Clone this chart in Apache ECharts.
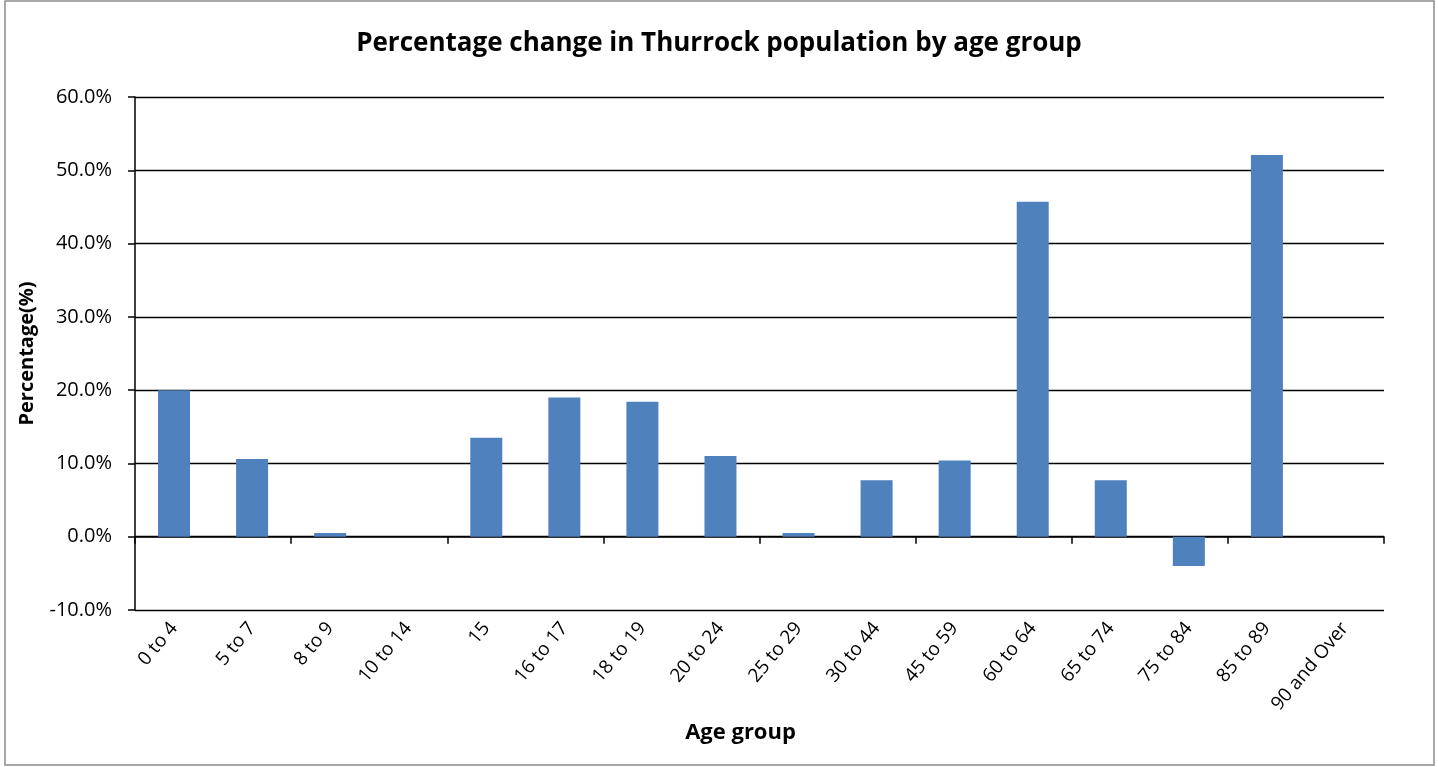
<!DOCTYPE html>
<html>
<head>
<meta charset="utf-8">
<script src="https://cdn.jsdelivr.net/npm/echarts@6/dist/echarts.min.js"></script>
<style>
  html, body { margin: 0; padding: 0; background: #fff; }
  #chart { width: 1438px; height: 767px; }
</style>
</head>
<body>
<div id="chart"></div>
<script>
// age groups and percentage change
const ageGroups = ['0 to 4', '5 to 7', '8 to 9', '10 to 14', '15', '16 to 17', '18 to 19', '20 to 24',
  '25 to 29', '30 to 44', '45 to 59', '60 to 64', '65 to 74', '75 to 84', '85 to 89', '90 and Over'];
const pctChange = [20.0, 10.6, 0.5, 0, 13.5, 19.0, 18.4, 11.0, 0.5, 7.7, 10.4, 45.7, 7.7, -4.0, 52.1, 0];
const yTicks = { min: -10, max: 60, step: 10 };

const font = '"Open Sans", "Noto Sans", sans-serif';
const chart = echarts.init(document.getElementById('chart'));

chart.setOption({
  animation: false,
  textStyle: { fontFamily: font, color: '#000' },
  title: {
    text: 'Percentage change in Thurrock population by age group',
    left: 'center',
    top: 26,
    textStyle: { fontFamily: font, fontSize: 26, fontWeight: 'bold', color: '#000' }
  },
  graphic: [{
    type: 'rect',
    shape: { x: 5, y: 1, width: 1429, height: 764 },
    style: { fill: 'none', stroke: '#8c8c8c', lineWidth: 1.5 },
    silent: true
  }],
  grid: { left: 135, right: 54, top: 97, bottom: 157 },
  xAxis: [{
    type: 'category',
    data: ageGroups,
    axisLine: { onZero: true, lineStyle: { color: '#000', width: 1.5 } },
    axisTick: { show: true, length: 7, lineStyle: { color: '#000', width: 1.5 } },
    axisLabel: { show: false },
    splitLine: { show: false }
  }, {
    type: 'category',
    data: ageGroups,
    position: 'bottom',
    axisLine: { show: false, onZero: false },
    axisTick: { show: false },
    axisLabel: { rotate: 50, fontSize: 19, margin: 15, color: '#000', fontFamily: font },
    name: 'Age group',
    nameLocation: 'middle',
    nameGap: 112,
    nameTextStyle: { fontSize: 22, fontWeight: 'bold', color: '#000', fontFamily: font, padding: [0, 38, 0, 0] }
  }],
  yAxis: {
    type: 'value',
    min: yTicks.min,
    max: yTicks.max,
    interval: yTicks.step,
    axisLine: { show: true, lineStyle: { color: '#000', width: 1.5 } },
    axisTick: { show: true, length: 7, lineStyle: { color: '#000', width: 1.5 } },
    axisLabel: {
      fontSize: 20, margin: 23, color: '#000', fontFamily: font,
      formatter: v => v.toFixed(1) + '%'
    },
    splitLine: { show: true, lineStyle: { color: '#000', width: 1.3 } },
    name: 'Percentage(%)',
    nameLocation: 'middle',
    nameGap: 98,
    nameTextStyle: { fontSize: 20, fontWeight: 'bold', color: '#000', fontFamily: font }
  },
  series: [{
    type: 'bar',
    xAxisIndex: 0,
    data: pctChange,
    barWidth: 32,
    itemStyle: { color: '#4F81BD' }
  }]
});
</script>
</body>
</html>
